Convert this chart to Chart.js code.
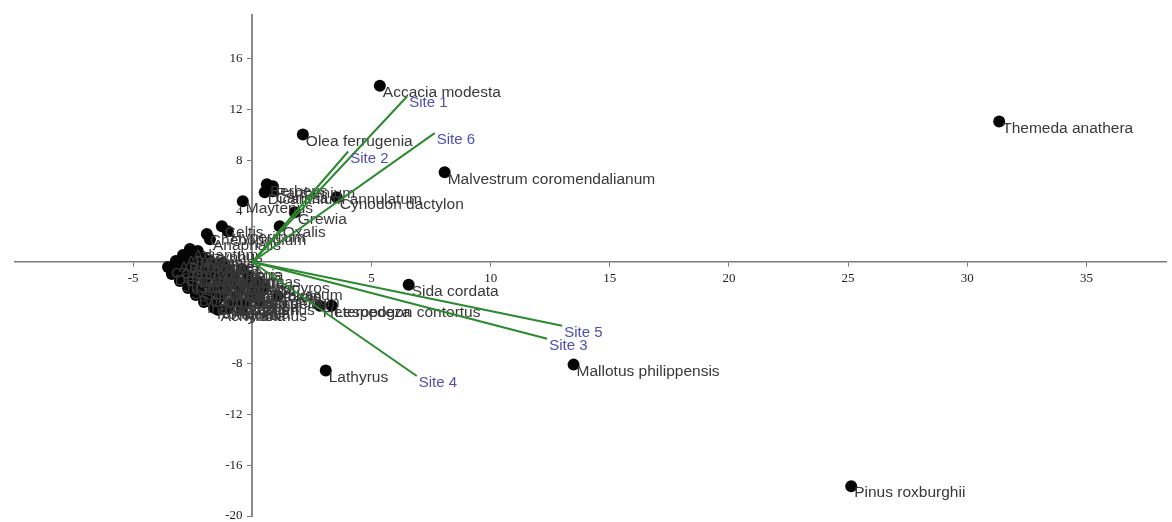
<!DOCTYPE html>
<html>
<head>
<meta charset="utf-8">
<script src="https://cdn.jsdelivr.net/npm/chart.js@4.4.1/dist/chart.umd.min.js"></script>
<style>
  html, body { margin: 0; padding: 0; background: #ffffff; }
  #c { display: block; }
</style>
</head>
<body>
<canvas id="c" width="1172" height="522"></canvas>
<script>
// ---- Species scores (PC1, PC2) ----
const speciesNames = [
  "Accacia modesta", "Olea ferrugenia", "Themeda anathera", "Malvestrum coromendalianum",
  "Berberis", "Parthenium", "Dicanthium annulatum", "Carissa", "Cynodon dactylon",
  "Maytenus", "Grewia", "Oxalis", "Celtis", "Hypericum", "Chenopodium", "Anaphalis",
  "Sida cordata", "Heteropogon contortus", "Lespedeza", "Taraxacum", "Lathyrus",
  "Mallotus philippensis", "Pinus roxburghii", "Rottboellia", "Achyranthus",
  "Adiantum", "Zizyphus",
  "Ajuga", "Bauhinia", "Ficus",
  "Artemisia", "Bidens", "Cassia", "Rumex", "Viola",
  "Carex", "Clematis", "Conyza", "Cyperus", "Dalbergia", "Stipa", "Rhus",
  "Dodonaea", "Euphorbia", "Galium", "Geranium", "Imperata", "Inula", "Leucas",
  "Justicia", "Lantana", "Mimosa", "Murraya", "Plantago", "Pyrus", "Diospyros",
  "Senecio", "Solanum", "Toona", "Urena", "Woodfordia", "Xanthium",
  "Boehmeria", "Cannabis", "Commelina", "Cissampelos", "Salix", "Trifolium",
  "Indigofera", "Eragrostis", "Oplismenus", "Sapium", "Rosa",
  "Roylea", "Rubia"
];
const speciesX = [
  5.35, 2.12, 31.34, 8.07,
  0.61, 0.86, 0.52, 0.86, 3.54,
  -0.40, 1.78, 1.15, -1.28, -1.03, -1.91, -1.78,
  6.56, 2.83, 3.33, 0.48, 3.08,
  13.48, 25.13, -1.61, -1.45,
  -2.62, -2.29,
  -2.91, -2.54, -2.08,
  -3.21, -2.79, -2.33, -1.78, -1.28,
  -3.54, -3.12, -2.62, -2.12, -1.61, -1.03, -0.44,
  -3.38, -2.91, -2.41, -1.87, -1.36, -0.78, -0.19,
  -3.04, -2.54, -1.99, -1.45, -0.90, -0.31, 0.23,
  -2.70, -2.20, -1.66, -1.11, -0.52, 0.02,
  -2.37, -1.87, -1.32, -0.69, -0.10, 1.07,
  -2.03, -1.53, -0.94, -0.36, 0.31,
  -1.03, -0.44
];
const speciesY = [
  13.88, 10.04, 11.06, 7.06,
  6.12, 5.96, 5.49, 5.57, 5.10,
  4.78, 3.92, 2.82, 2.82, 2.43, 2.20, 1.80,
  -1.80, -3.45, -3.45, -2.12, -8.55,
  -8.08, -17.65, -3.61, -3.76,
  1.02, 0.86,
  0.55, 0.47, 0.39,
  0.08, 0.00, 0.00, 0.08, -0.08,
  -0.39, -0.47, -0.47, -0.55, -0.55, -0.63, -0.55,
  -0.94, -1.02, -1.10, -1.10, -1.18, -1.18, -1.10,
  -1.49, -1.57, -1.65, -1.73, -1.73, -1.65, -1.57,
  -2.04, -2.12, -2.20, -2.27, -2.27, -2.20,
  -2.59, -2.67, -2.75, -2.82, -2.75, -2.67,
  -3.14, -3.22, -3.29, -3.29, -3.06,
  -3.69, -3.76
];

// ---- Site loadings (vectors from origin) ----
const siteNames = ["Site 1", "Site 2", "Site 6", "Site 5", "Site 3", "Site 4"];
const siteX = [6.50, 4.02, 7.65, 13.00, 12.37, 6.90];
const siteY = [13.05, 8.70, 10.15, -5.02, -6.05, -8.98];

// ---- Tick labels ----
const xTickValues = [-5, 5, 10, 15, 20, 25, 30, 35];
const yTickValues = [-20, -16, -12, -8, 4, 8, 12, 16];

const speciesPoints = speciesX.map((x, i) => ({ x: x, y: speciesY[i] }));

const datasets = [{
  type: 'scatter',
  label: 'Species',
  data: speciesPoints,
  pointRadius: 6,
  pointHoverRadius: 6,
  pointBackgroundColor: '#050505',
  pointBorderWidth: 0,
  order: 2
}];
siteNames.forEach((name, i) => {
  datasets.push({
    type: 'line',
    label: name,
    data: [{ x: 0, y: 0 }, { x: siteX[i], y: siteY[i] }],
    borderColor: '#2b8a2e',
    borderWidth: 2,
    pointRadius: 0,
    fill: false,
    order: 1
  });
});

const labelPlugin = {
  id: 'biplotLabels',
  afterDatasetDraw(chart, args) {
    if (args.index !== 0) return;
    const ctx = chart.ctx, xs = chart.scales.x, ys = chart.scales.y;
    ctx.save();
    ctx.font = '15.5px "Liberation Sans", Arial, sans-serif';
    ctx.fillStyle = '#383838';
    ctx.textAlign = 'left';
    ctx.textBaseline = 'middle';
    speciesNames.forEach((n, i) => {
      ctx.fillText(n, xs.getPixelForValue(speciesX[i]) + 3, ys.getPixelForValue(speciesY[i]) + 7);
    });
    ctx.restore();
  },
  afterDatasetsDraw(chart) {
    const ctx = chart.ctx, xs = chart.scales.x, ys = chart.scales.y;
    ctx.save();
    ctx.font = '15px "Liberation Sans", Arial, sans-serif';
    ctx.fillStyle = '#4f4fb3';
    ctx.textAlign = 'left';
    ctx.textBaseline = 'middle';
    siteNames.forEach((n, i) => {
      ctx.fillText(n, xs.getPixelForValue(siteX[i]) + 2, ys.getPixelForValue(siteY[i]) + 7);
    });
    ctx.restore();
  }
};

const noPad = (s) => { s.paddingTop = 0; s.paddingBottom = 0; s.paddingLeft = 0; s.paddingRight = 0; };

new Chart(document.getElementById('c'), {
  data: { datasets: datasets },
  plugins: [labelPlugin],
  options: {
    responsive: false,
    animation: false,
    devicePixelRatio: 1,
    layout: { padding: { left: 15, top: 15, right: 0, bottom: 3 } },
    plugins: { legend: { display: false }, tooltip: { enabled: false } },
    scales: {
      x: {
        type: 'linear',
        min: -9.96,
        max: 38.34,
        position: { y: 0 },
        afterBuildTicks: (s) => { s.ticks = xTickValues.map(v => ({ value: v })); },
        afterFit: (s) => { s.height = 0; noPad(s); },
        grid: { drawOnChartArea: false, drawTicks: true, tickLength: 4, color: '#777' },
        border: { display: true, color: '#7a7a7a', width: 1.5 },
        ticks: {
          autoSkip: false, maxRotation: 0, padding: 5,
          color: '#222',
          font: { family: '"Liberation Serif", "Times New Roman", serif', size: 13 },
          callback: (v) => String(v)
        }
      },
      y: {
        type: 'linear',
        min: -20,
        max: 19.45,
        position: { x: 0 },
        afterBuildTicks: (s) => { s.ticks = yTickValues.map(v => ({ value: v })); },
        afterFit: (s) => { s.width = 0; noPad(s); },
        grid: { drawOnChartArea: false, drawTicks: true, tickLength: 4, color: '#777' },
        border: { display: true, color: '#8a8a8a', width: 2 },
        ticks: {
          autoSkip: false, padding: 3,
          color: '#222',
          font: { family: '"Liberation Serif", "Times New Roman", serif', size: 13 },
          callback: (v) => String(v) + '\u2002 '
        }
      }
    }
  }
});
</script>
</body>
</html>
